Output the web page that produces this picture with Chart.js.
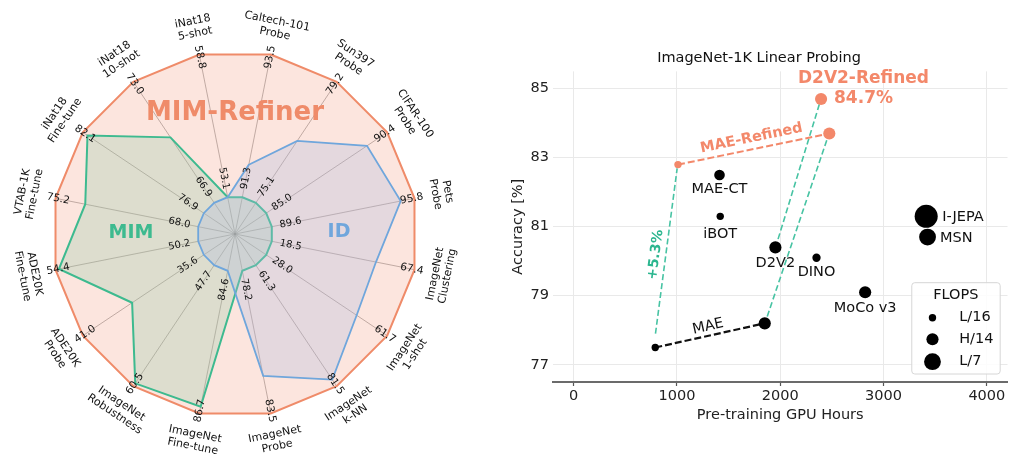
<!DOCTYPE html>
<html>
<head>
<meta charset="utf-8">
<script src="https://cdn.jsdelivr.net/npm/chart.js@4.4.1/dist/chart.umd.min.js"></script>
<style>
  html, body { margin: 0; padding: 0; background: #fff; }
  #wrap { position: relative; width: 1015px; height: 454px; overflow: hidden; background: #fff; }
  #radar { position: absolute; left: 0; top: 0; width: 480px; height: 454px; }
  #scatter { position: absolute; left: 500px; top: 0; width: 519px; height: 454px; }
</style>
</head>
<body>
<div id="wrap">
  <canvas id="radar" width="480" height="454"></canvas>
  <canvas id="scatter" width="519" height="454"></canvas>
</div>
<script>
// ---- radar data (clockwise from the top) ----
const axisLabels = [
  ["Caltech-101", "Probe"], ["Sun397", "Probe"], ["CIFAR-100", "Probe"], ["Pets", "Probe"],
  ["ImageNet", "Clustering"], ["ImageNet", "1-shot"], ["ImageNet", "k-NN"], ["ImageNet", "Probe"],
  ["ImageNet", "Fine-tune"], ["ImageNet", "Robustness"], ["ADE20K", "Probe"], ["ADE20K", "Fine-tune"],
  ["VTAB-1K", "Fine-tune"], ["iNat18", "Fine-tune"], ["iNat18", "10-shot"], ["iNat18", "5-shot"],
];
const axisMin = [91.3, 75.1, 85.0, 89.6, 18.5, 28.0, 61.3, 78.2, 84.6, 47.7, 35.6, 50.2, 68.0, 76.9, 66.9, 53.1];
const refinerScores = [93.5, 79.2, 90.4, 95.8, 67.4, 61.7, 81.5, 83.5, 86.7, 60.5, 41.0, 54.4, 75.2, 82.1, 73.0, 58.8];
const mimScores = [91.3, 75.1, 85.0, 89.6, 18.5, 28.0, 61.3, 78.2, 86.6, 60.2, 38.8, 54.3, 73.7, 81.9, 70.2, 53.1];
const idScores = [91.8, 77.2, 89.5, 95.2, 54.2, 53.2, 80.4, 82.1, 84.6, 47.7, 35.6, 50.2, 68.0, 76.9, 66.9, 53.1];

// ---- scatter data ----
const baseNames = ["MAE", "MAE", "D2V2", "MAE-CT", "iBOT", "DINO", "MoCo v3", "I-JEPA", "MSN"];
const baseHours = [790, 1850, 1953, 1412, 1419, 2351, 2822, 3413, 3426];
const baseAcc = [77.5, 78.2, 80.4, 82.5, 81.3, 80.1, 79.1, 81.3, 80.7];
const baseFlops = [61.6, 167, 167, 127, 61.6, 78, 167, 600, 320];
const refNames = ["MAE-Refined", "MAE-Refined", "D2V2-Refined"];
const refHours = [1010, 2475, 2395];
const refAcc = [82.8, 83.7, 84.7];
const refFlops = [61.6, 167, 167];
// green "refinement" links (endpoints as drawn, slightly short of the dots)
const gainFrom = [[792, 77.9], [1874, 78.4], [1979, 80.64]];
const gainTo = [[1002, 82.69], [2462, 83.61], [2383, 84.59]];
const legendNames = ["L/16", "H/14", "L/7"];
const legendFlops = [61.6, 167, 320];
const xTicks = [0, 1000, 2000, 3000, 4000];
const yTicks = [77, 79, 81, 83, 85];

const FONT = "DejaVu Sans";
const SALMON = "#f3886a";
const ORANGE = "#ef8b69";
const GREEN = "#3dba8f";
const BLUE = "#6fa6dc";
const TEAL = "#47c3a3";
Chart.defaults.font.family = FONT;
Chart.defaults.color = "#222";

// ---------------- radar ----------------
const INNER = 0.205;
const norm = (vals) => vals.map((v, i) => INNER + (1 - INNER) * (v - axisMin[i]) / (refinerScores[i] - axisMin[i]));

function upright(d) {
  d = ((d % 360) + 360) % 360;
  if (d > 90 && d <= 270) d -= 180;
  else if (d > 270) d -= 360;
  return d;
}

function putText(ctx, pos, rotDeg, lines, lh) {
  ctx.save();
  ctx.translate(pos.x, pos.y);
  ctx.rotate(rotDeg * Math.PI / 180);
  lines.forEach((t, k) => ctx.fillText(t, 0, (k - (lines.length - 1) / 2) * lh));
  ctx.restore();
}

const radarText = {
  id: "radarText",
  afterDatasetsDraw(chart) {
    const ctx = chart.ctx, r = chart.scales.r, R = r.drawingArea;
    ctx.save();
    ctx.textAlign = "center";
    ctx.textBaseline = "middle";
    ctx.fillStyle = "#111";
    axisLabels.forEach((lab, i) => {
      const deg = r.getIndexAngle(i) * 180 / Math.PI;
      ctx.font = "10.5px " + FONT;
      putText(ctx, r.getPointPosition(i, R * 0.985), upright(deg - 90), [refinerScores[i].toFixed(1)], 12);
      ctx.font = "10px " + FONT;
      putText(ctx, r.getPointPosition(i, R * 0.31), upright(deg - 90), [axisMin[i].toFixed(1)], 12);
      ctx.font = "11px " + FONT;
      putText(ctx, r.getPointPosition(i, R * 1.15), upright(deg), lab, 12.5);
    });
    const cx = r.xCenter, cy = r.yCenter;
    ctx.font = "bold 26px " + FONT;
    ctx.fillStyle = ORANGE;
    ctx.fillText("MIM-Refiner", cx, cy - 121);
    ctx.font = "bold 19px " + FONT;
    ctx.fillStyle = GREEN;
    ctx.fillText("MIM", cx - 104, cy - 1);
    ctx.fillStyle = BLUE;
    ctx.fillText("ID", cx + 104, cy - 2);
    ctx.restore();
  },
};

new Chart(document.getElementById("radar"), {
  type: "radar",
  data: {
    labels: axisLabels,
    datasets: [
      { label: "MIM-Refiner", data: norm(refinerScores), borderColor: ORANGE, backgroundColor: "rgba(238,125,90,0.2)", borderWidth: 2, fill: true, order: 3 },
      { label: "MIM", data: norm(mimScores), borderColor: GREEN, backgroundColor: "rgba(150,202,169,0.3)", borderWidth: 2, fill: true, order: 2 },
      { label: "ID", data: norm(idScores), borderColor: BLUE, backgroundColor: "rgba(173,186,222,0.3)", borderWidth: 1.8, fill: true, order: 1 },
    ],
  },
  options: {
    responsive: false,
    animation: false,
    devicePixelRatio: 1,
    events: [],
    layout: { padding: { left: 52, right: 62, top: 51, bottom: 37 } },
    elements: { line: { tension: 0 }, point: { radius: 0 } },
    plugins: { legend: { display: false }, tooltip: { enabled: false } },
    scales: {
      r: {
        min: 0,
        max: 1,
        startAngle: 11.25,
        ticks: { display: false },
        grid: { display: false },
        angleLines: { color: "rgba(120,120,120,0.55)", lineWidth: 1 },
        pointLabels: { display: false },
      },
    },
  },
  plugins: [radarText],
});

// ---------------- scatter ----------------
const pts = (xs, ys, fs) => xs.map((v, i) => ({ x: v, y: ys[i], f: fs[i] }));
const radiusOf = (f) => Math.sqrt(f) * 0.47;
const link = (a, b, color, dash, w) => ({
  type: "line", data: [{ x: a[0], y: a[1] }, { x: b[0], y: b[1] }], showLine: true,
  borderColor: color, borderDash: dash, borderWidth: w, pointRadius: 0, fill: false,
});

const labelPlace = {
  "D2V2": [0, 16, "center"], "MAE-CT": [0, 14.6, "center"], "iBOT": [0, 18, "center"],
  "DINO": [0, 14.6, "center"], "MoCo v3": [0, 16, "center"], "I-JEPA": [16, 1, "left"], "MSN": [12.5, 1, "left"],
};

function alongText(ctx, p0, p1, t, off, text) {
  const ang = Math.atan2(p1.y - p0.y, p1.x - p0.x);
  const px = p0.x + t * (p1.x - p0.x) + off * Math.sin(ang);
  const py = p0.y + t * (p1.y - p0.y) - off * Math.cos(ang);
  ctx.save();
  ctx.translate(px, py);
  ctx.rotate(ang);
  ctx.fillText(text, 0, 0);
  ctx.restore();
}

const annotate = {
  id: "annotate",
  afterDatasetsDraw(chart) {
    const { ctx, chartArea: a } = chart;
    const sx = chart.scales.x, sy = chart.scales.y;
    const px = (h, v) => ({ x: sx.getPixelForValue(h), y: sy.getPixelForValue(v) });
    ctx.save();
    ctx.textBaseline = "middle";

    // point names
    ctx.font = "14.5px " + FONT;
    ctx.fillStyle = "#111";
    baseNames.forEach((n, i) => {
      const pl = labelPlace[n];
      if (!pl) return;
      const p = px(baseHours[i], baseAcc[i]);
      ctx.textAlign = pl[2];
      ctx.fillText(n, p.x + pl[0], p.y + pl[1]);
    });

    // D2V2-Refined headline
    const d = px(refHours[2], refAcc[2]);
    ctx.font = "bold 17px " + FONT;
    ctx.fillStyle = SALMON;
    ctx.textAlign = "center";
    ctx.fillText(refNames[2], d.x + 42.4, d.y - 20);
    ctx.textAlign = "left";
    ctx.fillText(refAcc[2].toFixed(1) + "%", d.x + 13, d.y);

    // line captions
    ctx.textAlign = "center";
    ctx.font = "bold 14.5px " + FONT;
    alongText(ctx, px(refHours[0], refAcc[0]), px(refHours[1], refAcc[1]), 0.5, 11, refNames[0]);
    ctx.font = "14.5px " + FONT;
    ctx.fillStyle = "#111";
    alongText(ctx, px(baseHours[0], baseAcc[0]), px(baseHours[1], baseAcc[1]), 0.5, 9, baseNames[0]);
    ctx.font = "bold 14px " + FONT;
    ctx.fillStyle = "#2bb68f";
    const gain = (refAcc[0] - baseAcc[0]).toFixed(1);
    alongText(ctx, px(gainFrom[0][0], gainFrom[0][1]), px(gainTo[0][0], gainTo[0][1]), 0.47, 10, "+" + gain + "%");

    // FLOPS legend
    const bw = 88.4, bh = 91.3;
    const bl = a.right - 7.3 - bw, bt = a.bottom - 8 - bh;
    ctx.beginPath();
    if (ctx.roundRect) ctx.roundRect(bl, bt, bw, bh, 3); else ctx.rect(bl, bt, bw, bh);
    ctx.fillStyle = "rgba(255,255,255,0.85)";
    ctx.fill();
    ctx.strokeStyle = "#d6d6d6";
    ctx.lineWidth = 1;
    ctx.stroke();
    ctx.fillStyle = "#111";
    ctx.font = "14.5px " + FONT;
    ctx.textAlign = "center";
    ctx.fillText("FLOPS", bl + 44, bt + 12.5);
    ctx.textAlign = "left";
    const rows = [35, 56.6, 79];
    legendNames.forEach((n, i) => {
      ctx.beginPath();
      ctx.arc(bl + 20.7, bt + rows[i], radiusOf(legendFlops[i]), 0, Math.PI * 2);
      ctx.fillStyle = "#000";
      ctx.fill();
      ctx.fillStyle = "#111";
      ctx.fillText(n, bl + 47.4, bt + rows[i]);
    });
    ctx.restore();
  },
};

new Chart(document.getElementById("scatter"), {
  type: "scatter",
  data: {
    datasets: [
      { label: "refined", data: pts(refHours, refAcc, refFlops), backgroundColor: SALMON, borderWidth: 0, pointRadius: (c) => radiusOf(c.raw.f) },
      { label: "baselines", data: pts(baseHours, baseAcc, baseFlops), backgroundColor: "#000", borderWidth: 0, pointRadius: (c) => radiusOf(c.raw.f) },
      link([baseHours[0], baseAcc[0]], [baseHours[1], baseAcc[1]], "#111", [7, 3], 2.2),
      link([refHours[0], refAcc[0]], [refHours[1], refAcc[1]], SALMON, [7, 3], 2),
      ...gainFrom.map((g, i) => link(g, gainTo[i], TEAL, [6, 3], 1.6)),
    ],
  },
  options: {
    responsive: false,
    animation: false,
    devicePixelRatio: 1,
    events: [],
    // canvas runs 4px past the window; those 4px are taken by the layout on the right
    layout: { padding: { left: 0, right: 1, top: 40, bottom: 26 } },
    plugins: {
      legend: { display: false },
      tooltip: { enabled: false },
      title: {
        display: true,
        text: "ImageNet-1K Linear Probing",
        color: "#111",
        font: { size: 14.5, weight: "normal" },
        padding: { top: 10, bottom: 4 },
      },
    },
    scales: {
      x: {
        type: "linear",
        min: -200,
        max: 4200,
        afterBuildTicks: (s) => { s.ticks = xTicks.map((v) => ({ value: v })); },
        afterFit: (s) => { s.height = 46; s.paddingLeft = 0; s.paddingRight = 0; },
        grid: { color: "#e9e9e9", lineWidth: 1, drawTicks: true, tickLength: 4, tickColor: "#555", tickWidth: 1.2 },
        border: { display: true, color: "#6b6b6b", width: 2 },
        ticks: { font: { size: 14.5 }, color: "#222", padding: 2, maxRotation: 0, callback: (v) => String(v) },
        title: { display: true, text: "Pre-training GPU Hours", font: { size: 14.5 }, color: "#222", padding: { top: 0, bottom: 4 } },
      },
      y: {
        min: 76.5,
        max: 85.5,
        afterBuildTicks: (s) => { s.ticks = yTicks.map((v) => ({ value: v })); },
        afterFit: (s) => { s.width = 53; s.paddingTop = 0; s.paddingBottom = 0; },
        grid: { color: "#e9e9e9", lineWidth: 1, drawTicks: false },
        border: { display: false },
        ticks: { font: { size: 14.5 }, color: "#222", padding: 4, callback: (v) => String(v) },
        title: { display: true, text: "Accuracy [%]", font: { size: 14.5 }, color: "#222", padding: { top: 10, bottom: 0 } },
      },
    },
  },
  plugins: [annotate],
});
</script>
</body>
</html>
